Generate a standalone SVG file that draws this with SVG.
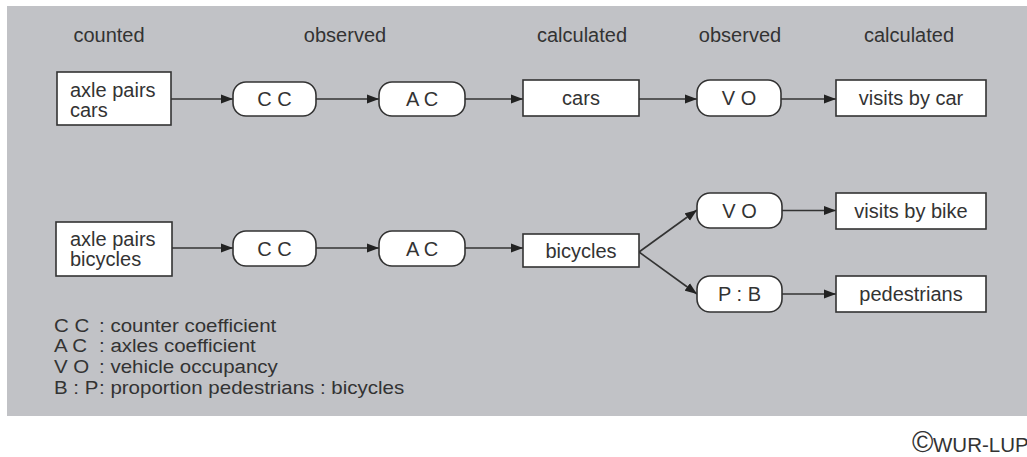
<svg xmlns="http://www.w3.org/2000/svg" width="1027" height="457" viewBox="0 0 1027 457">
<style>
text{font-family:"Liberation Sans",Arial,sans-serif;font-size:20px;fill:#333;}
.c{text-anchor:middle;}
.box{fill:#fff;stroke:#333;stroke-width:1.6;}
.edge{stroke:#333;stroke-width:1.6;fill:none;marker-end:url(#ah);}
.leg{font-size:20.5px;}
</style>
<defs>
<marker id="ah" markerUnits="userSpaceOnUse" markerWidth="12" markerHeight="10" refX="12" refY="5" orient="auto">
<path d="M0,0.5 L12,5 L0,9.5 z" fill="#222"/>
</marker>
</defs>
<rect x="0" y="0" width="1027" height="457" fill="#fff"/>
<rect x="7" y="6" width="1020" height="410" fill="#c1c2c6"/>
<g id="headers">
<text class="c" x="109" y="42">counted</text>
<text class="c" x="345" y="42">observed</text>
<text class="c" x="582" y="42">calculated</text>
<text class="c" x="740" y="42">observed</text>
<text class="c" x="909" y="42">calculated</text>
</g>
<g id="connectors">
<line class="edge" x1="171" y1="99" x2="233" y2="99"/>
<line class="edge" x1="316" y1="99" x2="379" y2="99"/>
<line class="edge" x1="465" y1="99" x2="523" y2="99"/>
<line class="edge" x1="639" y1="99" x2="697" y2="99"/>
<line class="edge" x1="781" y1="99" x2="836" y2="99"/>
<line class="edge" x1="172" y1="248" x2="233" y2="248"/>
<line class="edge" x1="316" y1="248" x2="379" y2="248"/>
<line class="edge" x1="465" y1="248" x2="523" y2="248"/>
<line class="edge" x1="639" y1="252" x2="697" y2="210"/>
<line class="edge" x1="639" y1="252" x2="697" y2="294"/>
<line class="edge" x1="782" y1="210.5" x2="836" y2="210.5"/>
<line class="edge" x1="782" y1="294" x2="836" y2="294"/>
</g>
<g id="axle-cars"><rect class="box" x="57" y="72" width="114" height="53"/><text x="70" y="97">axle pairs</text><text x="70" y="117">cars</text></g>
<g id="cc1"><rect class="box" x="233" y="82" width="83" height="34" rx="13"/><text class="c" x="274.5" y="106">C C</text></g>
<g id="ac1"><rect class="box" x="379" y="82" width="86" height="34" rx="13"/><text class="c" x="422" y="106">A C</text></g>
<g id="cars"><rect class="box" x="523" y="80" width="116" height="36"/><text class="c" x="581" y="105">cars</text></g>
<g id="vo1"><rect class="box" x="697" y="80" width="84" height="36" rx="13"/><text class="c" x="739" y="105">V O</text></g>
<g id="visits-car"><rect class="box" x="836" y="80" width="150" height="36"/><text class="c" x="911" y="105">visits by car</text></g>
<g id="axle-bicycles"><rect class="box" x="56" y="222" width="116" height="54"/><text x="70" y="246">axle pairs</text><text x="70" y="266">bicycles</text></g>
<g id="cc2"><rect class="box" x="233" y="231" width="83" height="35" rx="13"/><text class="c" x="274.5" y="255.5">C C</text></g>
<g id="ac2"><rect class="box" x="379" y="231" width="86" height="35" rx="13"/><text class="c" x="422" y="255.5">A C</text></g>
<g id="bicycles"><rect class="box" x="523" y="234" width="116" height="33"/><text class="c" x="581" y="257.5">bicycles</text></g>
<g id="vo2"><rect class="box" x="697" y="193" width="85" height="35" rx="13"/><text class="c" x="739.5" y="217.5">V O</text></g>
<g id="visits-bike"><rect class="box" x="836" y="193" width="150" height="36"/><text class="c" x="911" y="218">visits by bike</text></g>
<g id="pb"><rect class="box" x="697" y="276" width="85" height="36" rx="13"/><text class="c" x="739.5" y="301">P : B</text></g>
<g id="pedestrians"><rect class="box" x="836" y="276" width="150" height="36"/><text class="c" x="911" y="301">pedestrians</text></g>
<g id="legend" transform="translate(0,332) scale(1,0.85)">
<text class="leg" x="54" y="0">C C</text><text class="leg" x="99" y="0">: counter coefficient</text>
<text class="leg" x="54" y="24.1">A C</text><text class="leg" x="99" y="24.1">: axles coefficient</text>
<text class="leg" x="54" y="48.2">V O</text><text class="leg" x="99" y="48.2">: vehicle occupancy</text>
<text class="leg" x="54" y="72.4">B : P</text><text class="leg" x="99" y="72.4">: proportion pedestrians : bicycles</text>
</g>
<g id="copyright">
<text x="912" y="452" style="font-size:29px">©</text>
<text x="933" y="452" style="font-size:20.5px">WUR-LUP</text>
</g>
</svg>
